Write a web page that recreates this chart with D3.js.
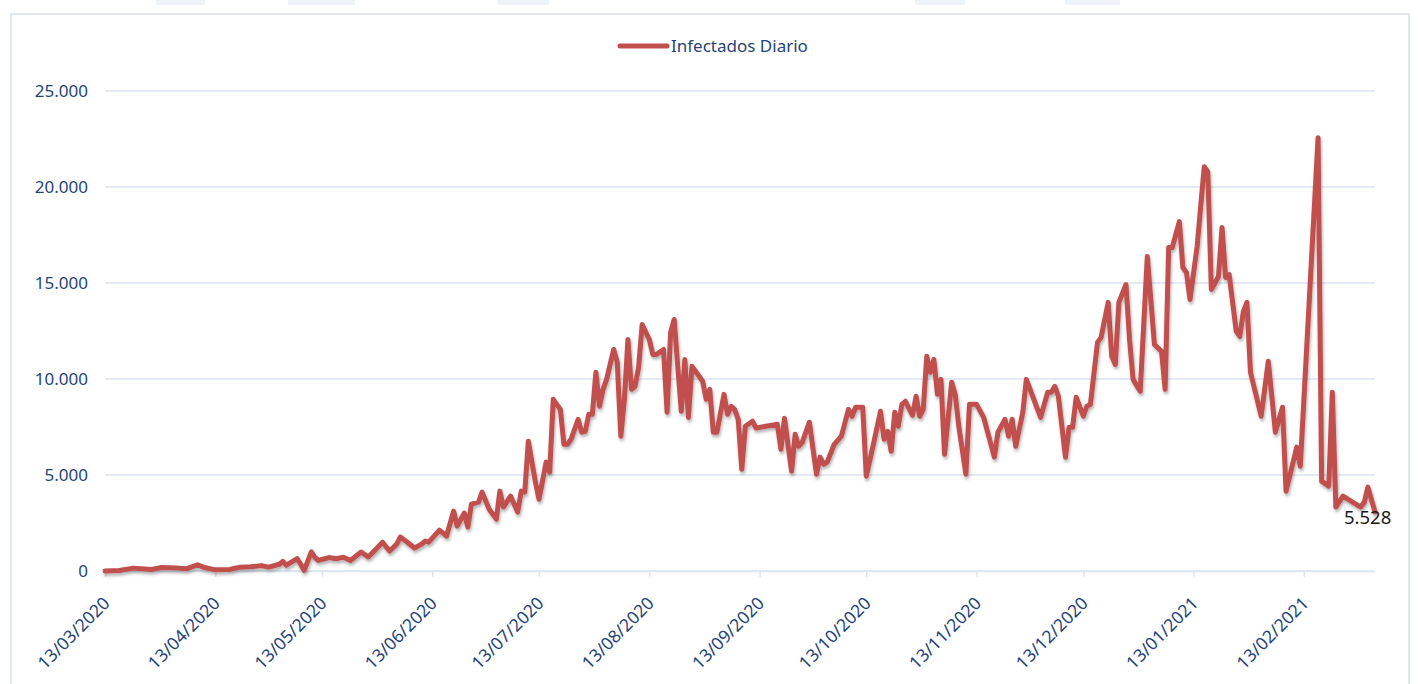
<!DOCTYPE html>
<html>
<head>
<meta charset="utf-8">
<script src="https://cdn.jsdelivr.net/npm/d3@7"></script>
<style>
body { margin: 0; background: #fff; }
text { font-family: "Noto Sans", sans-serif; }
</style>
</head>
<body>
<div id="chart"></div>
<script>
var dates = [
"2020-03-13","2020-03-17","2020-03-21","2020-03-26","2020-03-29","2020-04-02","2020-04-05","2020-04-08","2020-04-10","2020-04-13",
"2020-04-17","2020-04-20","2020-04-23","2020-04-26","2020-04-28","2020-05-01","2020-05-02","2020-05-03","2020-05-06","2020-05-07",
"2020-05-08","2020-05-10","2020-05-11","2020-05-12","2020-05-14","2020-05-15","2020-05-17","2020-05-19","2020-05-21","2020-05-24",
"2020-05-26","2020-05-28","2020-05-30","2020-06-01","2020-06-03","2020-06-04","2020-06-06","2020-06-08","2020-06-10","2020-06-11",
"2020-06-12","2020-06-15","2020-06-17","2020-06-19","2020-06-20","2020-06-22","2020-06-23","2020-06-24","2020-06-26","2020-06-27",
"2020-06-29","2020-07-01","2020-07-02","2020-07-03","2020-07-05","2020-07-07","2020-07-08","2020-07-09","2020-07-10","2020-07-12",
"2020-07-13","2020-07-15","2020-07-16","2020-07-17","2020-07-19","2020-07-20","2020-07-21","2020-07-22","2020-07-24","2020-07-25",
"2020-07-26","2020-07-27","2020-07-28","2020-07-29","2020-07-30","2020-07-31","2020-08-01","2020-08-03","2020-08-04","2020-08-05",
"2020-08-06","2020-08-07","2020-08-08","2020-08-09","2020-08-10","2020-08-11","2020-08-13","2020-08-14","2020-08-15","2020-08-17",
"2020-08-18","2020-08-19","2020-08-20","2020-08-21","2020-08-22","2020-08-23","2020-08-24","2020-08-25","2020-08-26","2020-08-28",
"2020-08-29","2020-08-30","2020-08-31","2020-09-01","2020-09-03","2020-09-04","2020-09-05","2020-09-06","2020-09-07","2020-09-08",
"2020-09-09","2020-09-11","2020-09-12","2020-09-18","2020-09-19","2020-09-20","2020-09-22","2020-09-23","2020-09-24","2020-09-25",
"2020-09-27","2020-09-29","2020-09-30","2020-10-01","2020-10-02","2020-10-04","2020-10-06","2020-10-08","2020-10-09","2020-10-10",
"2020-10-12","2020-10-13","2020-10-15","2020-10-17","2020-10-18","2020-10-19","2020-10-20","2020-10-21","2020-10-22","2020-10-23",
"2020-10-24","2020-10-26","2020-10-27","2020-10-28","2020-10-29","2020-10-30","2020-10-31","2020-11-01","2020-11-02","2020-11-03",
"2020-11-04","2020-11-06","2020-11-07","2020-11-08","2020-11-10","2020-11-11","2020-11-13","2020-11-15","2020-11-18","2020-11-19",
"2020-11-21","2020-11-22","2020-11-23","2020-11-24","2020-11-26","2020-11-27","2020-12-01","2020-12-03","2020-12-04","2020-12-05",
"2020-12-06","2020-12-08","2020-12-09","2020-12-10","2020-12-11","2020-12-13","2020-12-14","2020-12-15","2020-12-17","2020-12-18",
"2020-12-20","2020-12-21","2020-12-22","2020-12-23","2020-12-25","2020-12-26","2020-12-27","2020-12-29","2020-12-31","2021-01-02",
"2021-01-04","2021-01-05","2021-01-06","2021-01-07","2021-01-09","2021-01-10","2021-01-11","2021-01-12","2021-01-14","2021-01-16",
"2021-01-17","2021-01-18","2021-01-20","2021-01-21","2021-01-22","2021-01-23","2021-01-25","2021-01-26","2021-01-27","2021-01-28",
"2021-01-29","2021-02-01","2021-02-03","2021-02-05","2021-02-07","2021-02-08","2021-02-11","2021-02-12","2021-02-17","2021-02-18",
"2021-02-20","2021-02-21","2021-02-22","2021-02-24","2021-03-01","2021-03-02","2021-03-03","2021-03-05"
];

var infectados = [
0,30,150,80,180,150,120,320,180,60,
80,200,220,280,200,350,500,300,650,350,
30,1000,700,550,650,700,640,720,550,990,
730,1100,1500,1040,1400,1770,1500,1200,1400,1560,
1500,2130,1820,3120,2340,3020,2290,3480,3590,4110,
3220,2700,4160,3330,3900,3070,4160,4110,6760,4630,
3740,5670,5150,8940,8420,6600,6600,6860,7900,7230,
7280,8160,8160,10350,8580,9460,9980,11540,10870,7020,
8940,12060,9460,9620,10610,12840,12060,11280,11280,11540,
8270,12430,13100,10660,8320,11020,8000,10660,10400,9880,
8940,9460,7230,7230,9200,8160,8580,8420,7900,5300,
7540,7800,7450,7640,6340,7950,5200,7120,6500,6700,
7750,5040,5930,5560,5670,6600,7020,8420,8060,8530,
8530,4940,6600,8320,6860,7280,6240,8270,7540,8680,
8840,8110,9100,8060,8420,11180,10350,11020,9200,9980,
6080,9830,9200,7540,5040,8680,8680,8000,5930,7230,
7900,7020,7900,6500,8270,9980,8000,9310,9310,9620,
9100,5930,7490,7490,9050,8060,8580,8680,11910,12170,
13990,11180,10760,13990,14920,12060,9980,9360,16380,11800,
11440,9460,16850,16850,18200,15810,15550,14140,16900,21060,
20800,14660,15340,17890,15290,15440,12480,12220,13520,13990,
10350,8060,10920,7230,8530,4160,6450,5460,22570,4680,
4420,9310,3330,3900,3330,3590,4370,3070
];

var yTicks = [0, 5000, 10000, 15000, 20000, 25000];
var xTickLabels = ["13/03/2020","13/04/2020","13/05/2020","13/06/2020","13/07/2020","13/08/2020",
                   "13/09/2020","13/10/2020","13/11/2020","13/12/2020","13/01/2021","13/02/2021"];
var seriesName = "Infectados Diario";
var lastLabel = 5528;

var svgW = 1418;
var svgH = 684;
var margin = { left: 105, right: 43, top: 91, bottom: 112 };

var lineColor = "#c0504d";
var textColor = "#264478";
var gridColor = "#dbe5f1";

var parseDay = d3.timeParse("%Y-%m-%d");
var parseTick = d3.timeParse("%d/%m/%Y");
var es = d3.formatLocale({ decimal: ",", thousands: ".", grouping: [3], currency: ["", " €"] });
var fmt = es.format(",d");

var data = dates.map((d, i) => ({ date: parseDay(d), value: infectados[i] }));

var svg = d3.select("#chart")
            .append("svg")
            .attr("width", svgW)
            .attr("height", svgH);

// frame + faint pieces of the surrounding page
svg.append("rect")
   .attr("x", 11).attr("y", 14)
   .attr("width", 1398).attr("height", 700)
   .attr("fill", "none")
   .attr("stroke", "#d5e1ef")
   .attr("stroke-width", 1.5);
[[156, 49], [288, 67], [498, 51], [915, 50], [1065, 55]].forEach(b => {
    svg.append("rect").attr("x", b[0]).attr("y", 0).attr("width", b[1]).attr("height", 5).attr("fill", "#eef3f9");
});

var defs = svg.append("defs");
var shadow = defs.append("filter").attr("id", "shadow")
                 .attr("x", "-5%").attr("y", "-5%").attr("width", "110%").attr("height", "115%");
shadow.append("feDropShadow")
      .attr("dx", 1).attr("dy", 2.5).attr("stdDeviation", 1.5)
      .attr("flood-color", "#000").attr("flood-opacity", 0.3);

var xScale = d3.scaleTime()
               .domain(d3.extent(data, d => d.date))
               .range([margin.left, svgW - margin.right]);

var yScale = d3.scaleLinear()
               .domain([0, d3.max(yTicks)])
               .range([svgH - margin.bottom - 1, margin.top]);

// grid
svg.append("g")
   .selectAll("line")
   .data(yTicks)
   .enter()
   .append("line")
   .attr("x1", margin.left)
   .attr("x2", svgW - margin.right)
   .attr("y1", d => yScale(d))
   .attr("y2", d => yScale(d))
   .attr("stroke", gridColor)
   .attr("stroke-width", 1.5);

// y axis labels
var leftAxis = d3.axisLeft(yScale)
                 .tickValues(yTicks)
                 .tickFormat(fmt)
                 .tickSize(0)
                 .tickPadding(17);
var gy = svg.append("g")
            .attr("transform", `translate(${margin.left}, 0)`)
            .call(leftAxis);
gy.select(".domain").remove();
gy.selectAll("text")
  .attr("fill", textColor)
  .style("font-size", "17px");

// x axis
var bottomAxis = d3.axisBottom(xScale)
                   .tickValues(xTickLabels.map(parseTick))
                   .tickFormat(d3.timeFormat("%d/%m/%Y"))
                   .tickSizeInner(6)
                   .tickSizeOuter(0);
var gx = svg.append("g")
            .attr("transform", `translate(0, ${yScale(0)})`)
            .call(bottomAxis);
gx.select(".domain").attr("stroke", gridColor).attr("stroke-width", 1.5);
gx.selectAll(".tick line").attr("stroke", gridColor).attr("stroke-width", 1.5);
gx.selectAll("text")
  .attr("fill", textColor)
  .style("font-size", "17.5px")
  .attr("text-anchor", "end")
  .attr("dx", 0)
  .attr("dy", 0)
  .attr("transform", "translate(-1, 27) rotate(-45)");

// the series
var line = d3.line()
             .x(d => xScale(d.date))
             .y(d => yScale(d.value));

svg.append("path")
   .datum(data)
   .attr("d", line)
   .attr("fill", "none")
   .attr("stroke", lineColor)
   .attr("stroke-width", 5)
   .attr("stroke-linejoin", "round")
   .attr("stroke-linecap", "round")
   .attr("filter", "url(#shadow)");

// data label at the end
var last = data[data.length - 1];
svg.append("text")
   .attr("x", xScale(last.date) - 31)
   .attr("y", yScale(last.value) + 12)
   .attr("fill", "#1a1a1a")
   .style("font-size", "18.5px")
   .text(fmt(lastLabel));

// legend
var legend = svg.append("g").attr("transform", "translate(620, 46)");
legend.append("line")
      .attr("x1", 0).attr("x2", 47)
      .attr("y1", 0).attr("y2", 0)
      .attr("stroke", lineColor)
      .attr("stroke-width", 5)
      .attr("stroke-linecap", "round");
legend.append("text")
      .attr("x", 51)
      .attr("y", 6)
      .attr("fill", textColor)
      .style("font-size", "17px")
      .text(seriesName);
</script>
</body>
</html>
